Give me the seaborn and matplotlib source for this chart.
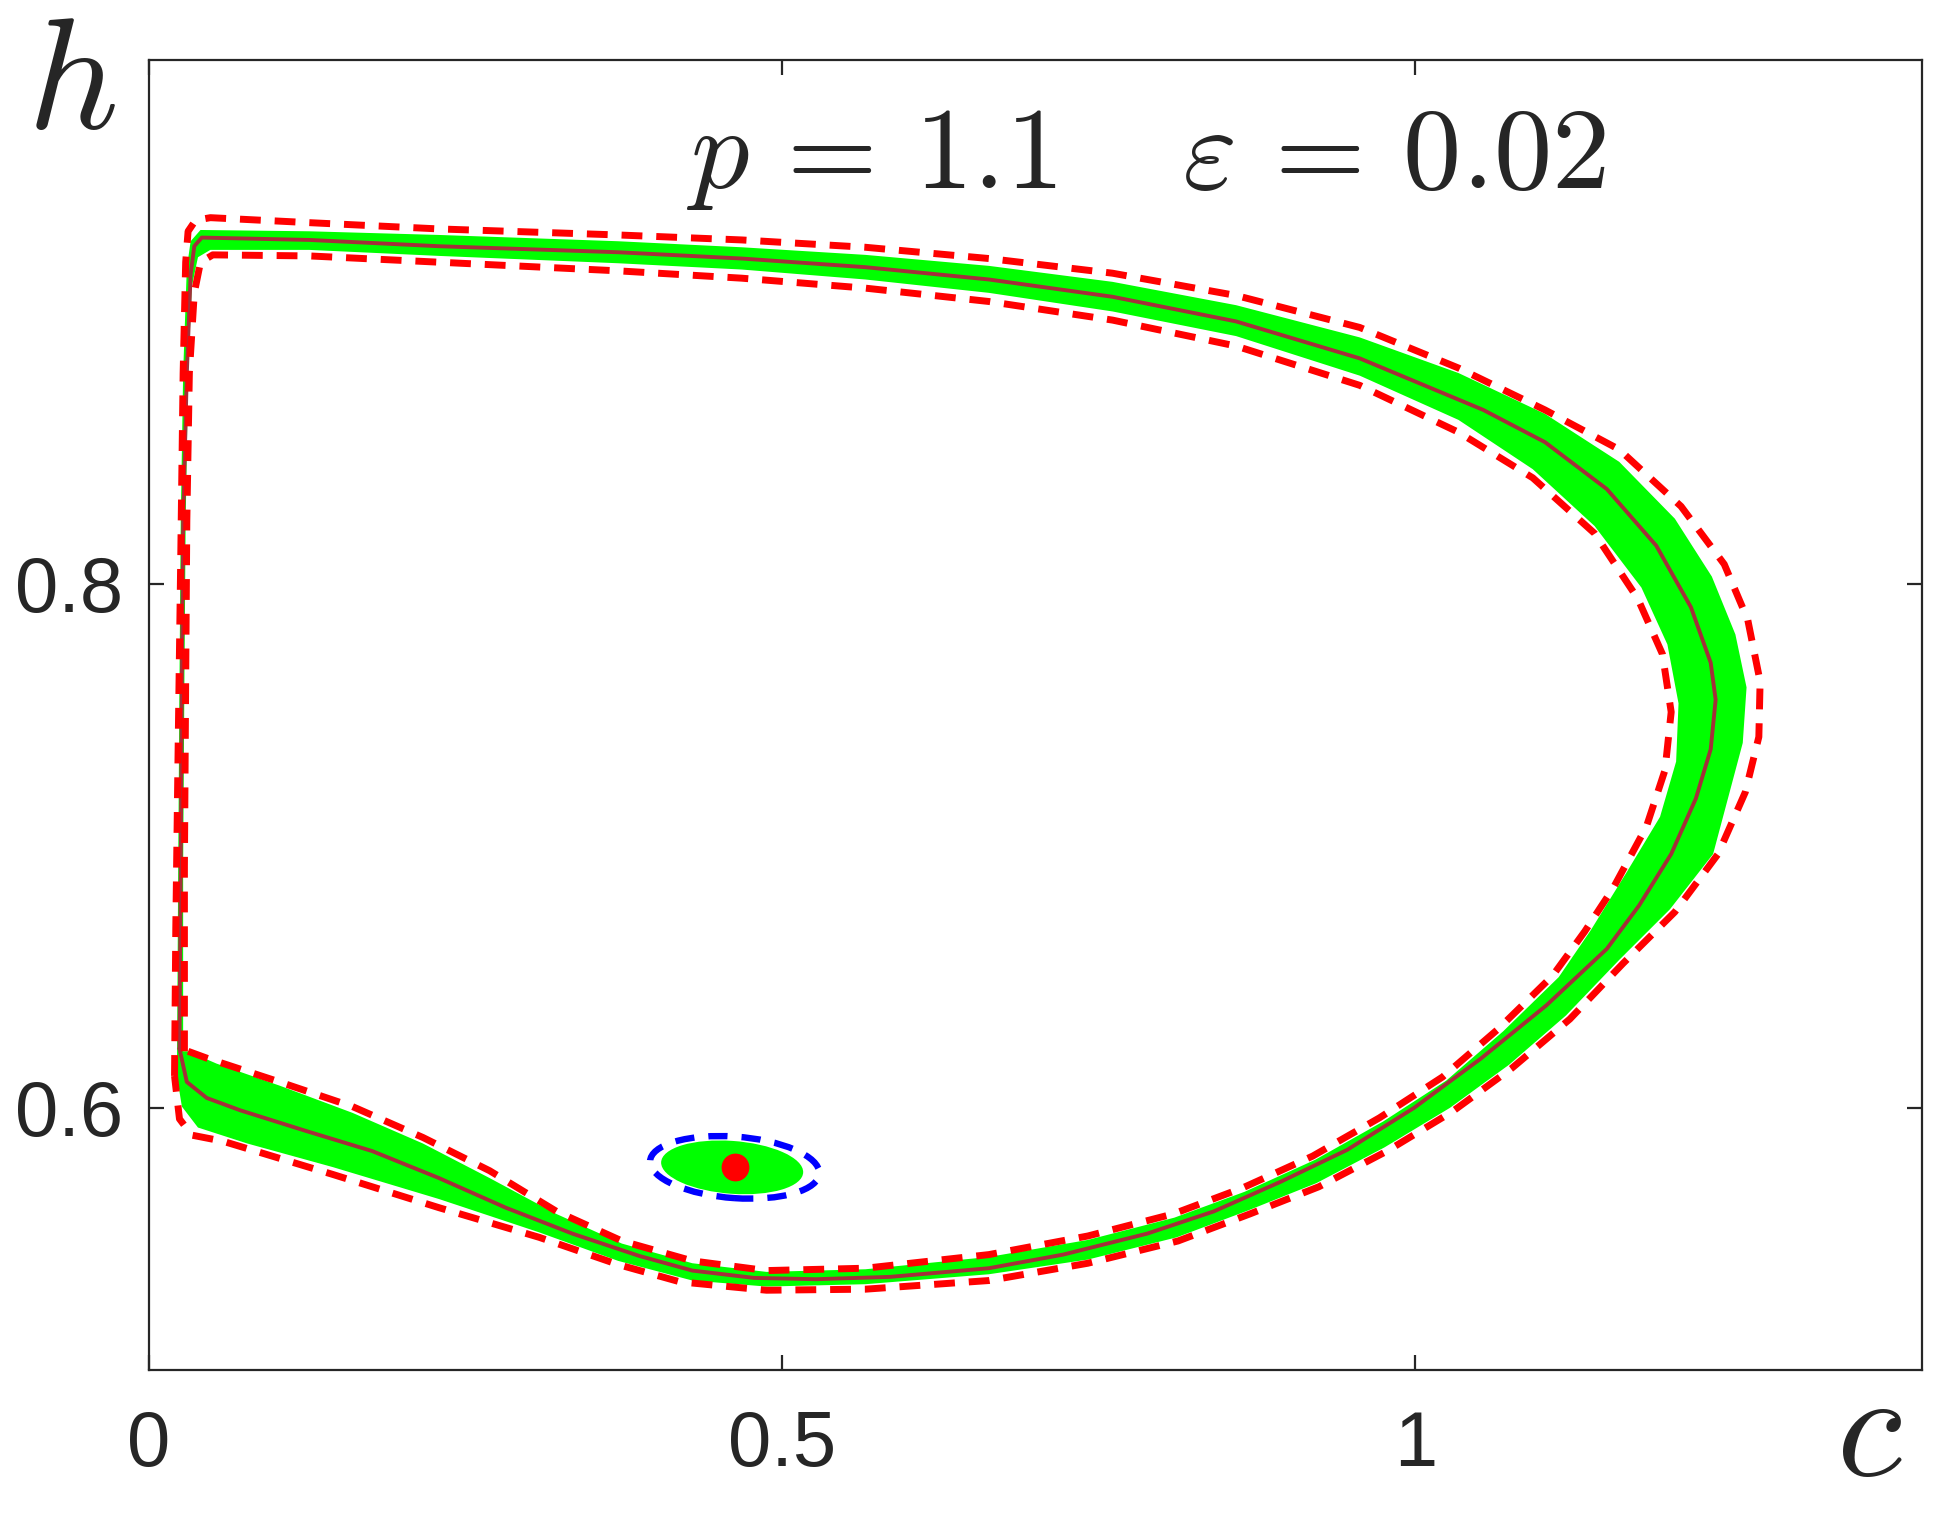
import numpy as np
import pandas as pd
import seaborn as sns
import matplotlib.pyplot as plt
from matplotlib.patches import Ellipse

# Limit cycle (deterministic)
cycle_c = [0.0244, 0.0254, 0.0263, 0.0273, 0.0302, 0.0332, 0.0361, 0.0420, 0.1268, 0.2293,
           0.3707, 0.4683, 0.5659, 0.6634, 0.7610, 0.8585, 0.9561, 1.0537, 1.1024, 1.1512,
           1.1902, 1.2176, 1.2332, 1.2371, 1.2332, 1.2215, 1.2020, 1.1766, 1.1512, 1.1034,
           1.0517, 0.9990, 0.9463, 0.8937, 0.8410, 0.7883, 0.7220, 0.6634, 0.5854, 0.5268,
           0.4780, 0.4293, 0.3873, 0.3346, 0.2820, 0.2293, 0.1766, 0.1249, 0.0722, 0.0459,
           0.0302, 0.0244]
cycle_h = [0.6226, 0.6922, 0.7628, 0.8240, 0.8805, 0.9181, 0.9289, 0.9322, 0.9313, 0.9289,
           0.9266, 0.9242, 0.9209, 0.9162, 0.9096, 0.9002, 0.8861, 0.8664, 0.8541, 0.8362,
           0.8146, 0.7911, 0.7699, 0.7558, 0.7369, 0.7181, 0.6969, 0.6772, 0.6607, 0.6391,
           0.6188, 0.6000, 0.5840, 0.5718, 0.5605, 0.5520, 0.5440, 0.5388, 0.5355, 0.5346,
           0.5351, 0.5379, 0.5435, 0.5520, 0.5619, 0.5732, 0.5835, 0.5911, 0.5991, 0.6038,
           0.6099, 0.6226]

# Confidence band, outer dashed border
outer_c = [0.0205, 0.0215, 0.0234, 0.0254, 0.0273, 0.0293, 0.0312, 0.0371, 0.0488, 0.1268,
           0.2293, 0.3707, 0.4683, 0.5659, 0.6634, 0.7610, 0.8585, 0.9561, 1.0341, 1.1024,
           1.1610, 1.2098, 1.2439, 1.2624, 1.2722, 1.2712, 1.2605, 1.2390, 1.2049, 1.1639,
           1.1220, 1.0761, 1.0293, 0.9776, 0.9239, 0.8693, 0.8127, 0.7415, 0.6634, 0.5659,
           0.4878, 0.4195, 0.3707, 0.3083, 0.2293, 0.1454, 0.0585, 0.0341, 0.0244, 0.0205]
outer_h = [0.6122, 0.6687, 0.7393, 0.8099, 0.8805, 0.9228, 0.9346, 0.9388, 0.9398, 0.9379,
           0.9355, 0.9332, 0.9313, 0.9285, 0.9242, 0.9186, 0.9101, 0.8979, 0.8824, 0.8664,
           0.8513, 0.8296, 0.8075, 0.7864, 0.7628, 0.7416, 0.7205, 0.6969, 0.6748, 0.6551,
           0.6339, 0.6151, 0.5986, 0.5835, 0.5699, 0.5595, 0.5492, 0.5407, 0.5341, 0.5308,
           0.5304, 0.5336, 0.5402, 0.5506, 0.5619, 0.5746, 0.5873, 0.5896, 0.5958, 0.6122]

# Confidence band, inner dashed border
inner_c = [0.0283, 0.0283, 0.0293, 0.0302, 0.0322, 0.0361, 0.0410, 0.0507, 0.1268, 0.2293,
           0.3707, 0.4683, 0.5659, 0.6634, 0.7610, 0.8585, 0.9561, 1.0341, 1.0927, 1.1415,
           1.1756, 1.1951, 1.2020, 1.1971, 1.1824, 1.1561, 1.1337, 1.1083, 1.0654, 1.0215,
           0.9717, 0.9190, 0.8634, 0.8088, 0.7415, 0.6634, 0.5659, 0.4878, 0.4293, 0.3737,
           0.3220, 0.2693, 0.2166, 0.1610, 0.1034, 0.0459, 0.0312, 0.0283]
inner_h = [0.6216, 0.6922, 0.7628, 0.8240, 0.8805, 0.9111, 0.9228, 0.9256, 0.9252, 0.9228,
           0.9195, 0.9167, 0.9129, 0.9078, 0.9007, 0.8908, 0.8758, 0.8579, 0.8405, 0.8193,
           0.7944, 0.7732, 0.7511, 0.7289, 0.7073, 0.6838, 0.6673, 0.6504, 0.6301, 0.6118,
           0.5962, 0.5816, 0.5694, 0.5595, 0.5511, 0.5440, 0.5388, 0.5379, 0.5416, 0.5492,
           0.5605, 0.5760, 0.5887, 0.6005, 0.6099, 0.6190, 0.6216, 0.6216]

# Spread of the stochastic trajectories (green cloud), outer and inner edge
cloud_out_c = [0.0224, 0.0234, 0.0244, 0.0254, 0.0273, 0.0302, 0.0332, 0.0410, 0.1268, 0.2293,
               0.3707, 0.4683, 0.5659, 0.6634, 0.7610, 0.8585, 0.9561, 1.0341, 1.1024, 1.1610,
               1.2049, 1.2341, 1.2527, 1.2615, 1.2585, 1.2468, 1.2351, 1.2010, 1.1610, 1.1190,
               1.0741, 1.0273, 0.9756, 0.9220, 0.8683, 0.8117, 0.7415, 0.6634, 0.5659, 0.4878,
               0.4293, 0.3707, 0.3083, 0.2293, 0.1454, 0.0780, 0.0390, 0.0263, 0.0224]
cloud_out_h = [0.6122, 0.6922, 0.7628, 0.8240, 0.8805, 0.9205, 0.9308, 0.9351, 0.9346, 0.9332,
               0.9308, 0.9285, 0.9256, 0.9214, 0.9153, 0.9064, 0.8941, 0.8805, 0.8649, 0.8466,
               0.8249, 0.8028, 0.7807, 0.7605, 0.7393, 0.7181, 0.6969, 0.6758, 0.6565, 0.6353,
               0.6165, 0.6000, 0.5849, 0.5713, 0.5609, 0.5506, 0.5421, 0.5365, 0.5327, 0.5318,
               0.5341, 0.5416, 0.5525, 0.5652, 0.5774, 0.5864, 0.5925, 0.6005, 0.6122]
cloud_in_c = [0.0273, 0.0273, 0.0283, 0.0293, 0.0312, 0.0341, 0.0390, 0.0488, 0.1268, 0.2293,
              0.3707, 0.4683, 0.5659, 0.6634, 0.7610, 0.8585, 0.9561, 1.0341, 1.0927, 1.1415,
              1.1785, 1.1990, 1.2078, 1.2059, 1.1932, 1.1668, 1.1385, 1.1132, 1.0693, 1.0244,
              0.9746, 0.9210, 0.8654, 0.8098, 0.7415, 0.6634, 0.5659, 0.4878, 0.4293, 0.3737,
              0.3220, 0.2693, 0.2166, 0.1610, 0.1034, 0.0537, 0.0312]
cloud_in_h = [0.6216, 0.6922, 0.7628, 0.8240, 0.8805, 0.9134, 0.9247, 0.9275, 0.9275, 0.9252,
              0.9224, 0.9200, 0.9162, 0.9111, 0.9040, 0.8946, 0.8795, 0.8626, 0.8438, 0.8221,
              0.7986, 0.7769, 0.7544, 0.7322, 0.7111, 0.6899, 0.6678, 0.6499, 0.6292, 0.6104,
              0.5948, 0.5802, 0.5680, 0.5581, 0.5496, 0.5431, 0.5384, 0.5374, 0.5407, 0.5482,
              0.5595, 0.5732, 0.5864, 0.5981, 0.6085, 0.6169, 0.6216]

# Equilibrium and its confidence ellipse
eq_c, eq_h = 0.4627, 0.5773
ell_width, ell_height = 0.1337, 0.0235
blob_width, blob_height = 0.1122, 0.0202

sns.set_style("ticks")
plt.rcParams['font.family'] = ['Liberation Sans', 'DejaVu Sans']
plt.rcParams['mathtext.fontset'] = 'cm'

fig = plt.figure(figsize=(9.71, 7.57), dpi=200)
ax = fig.add_axes([0.0765, 0.0952, 0.9132, 0.8652])

# green cloud of trajectories
ax.fill(cloud_out_c, cloud_out_h, color='#00FF00', lw=0, zorder=1)
ax.fill(cloud_in_c, cloud_in_h, color='white', lw=0, zorder=1.1)
ax.add_patch(Ellipse((eq_c - 0.002, eq_h), blob_width, blob_height, angle=-1.9,
                     color='#00FF00', lw=0, zorder=1.2))

# limit cycle
cyc = pd.DataFrame({'c': cycle_c, 'h': cycle_h})
sns.lineplot(data=cyc, x='c', y='h', sort=False, estimator=None, color='#A3303A',
             linewidth=1.4, ax=ax, zorder=3)

# confidence band borders
for cc, hh in [(outer_c, outer_h), (inner_c, inner_h)]:
    d = pd.DataFrame({'c': cc, 'h': hh})
    sns.lineplot(data=d, x='c', y='h', sort=False, estimator=None, color='#FF0000',
                 linewidth=2.5, linestyle=(0, (3, 2)), ax=ax, zorder=4)

ax.add_patch(Ellipse((eq_c, eq_h), ell_width, ell_height, angle=-1.9, fill=False,
                     edgecolor='#0000FF', linewidth=2.3, linestyle=(0, (3, 2.2)), zorder=4))
ax.plot([eq_c], [eq_h], 'o', color='#FF0000', markersize=9, zorder=5)

ax.set_xlim(0, 1.4)
ax.set_ylim(0.5, 1.0)
ax.set_xticks([0, 0.5, 1])
ax.set_xticklabels(['0', '0.5', '1'])
ax.set_yticks([0.6, 0.8])
ax.set_yticklabels(['0.6', '0.8'])
ax.set_xlabel('')
ax.set_ylabel('')
ax.tick_params(direction='in', length=5.4, width=0.8, labelsize=28, colors='#262626',
               top=True, right=True)
ax.tick_params(axis='x', pad=14)
ax.tick_params(axis='y', pad=9)
for s in ax.spines.values():
    s.set_linewidth(0.8)
    s.set_color('#262626')
    s.set_visible(True)

ax.text(0.5624, 0.902, r'$p\,=\,1.1\quad\,\varepsilon\,=\,0.02$', transform=ax.transAxes,
        ha='center', va='baseline', fontsize=42)
fig.text(0.0366, 0.9155, r'$h$', ha='center', va='baseline', fontsize=57)
fig.text(0.9624, 0.026, r'$c$', ha='center', va='baseline', fontsize=54)

plt.savefig('out.png', dpi=200)
